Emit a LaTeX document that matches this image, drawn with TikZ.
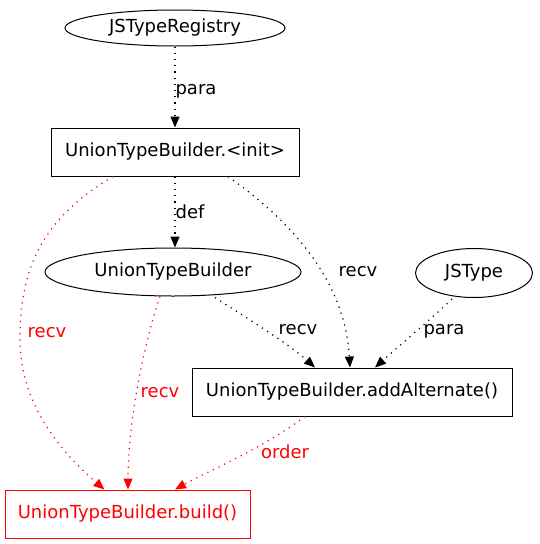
\documentclass[tikz,border=0pt]{standalone}
\usepackage{fontspec}
\setmainfont{DejaVu Sans}
\usetikzlibrary{shapes.geometric,arrows.meta}
\begin{document}
\begin{tikzpicture}[x=1pt,y=-1pt,
  every node/.style={font=\fontsize{18}{22}\selectfont},
  ell/.style={draw,ellipse,inner sep=0pt,line width=1pt},
  box/.style={draw,rectangle,inner sep=0pt,minimum height=48pt,line width=1pt},
  lbl/.style={inner sep=0pt},
  edge/.style={draw,line width=1.2pt,dash pattern=on 1.2pt off 5pt,-{Triangle[length=11pt,width=9pt]}},
  redge/.style={edge,red},
]
\useasboundingbox (0,0) rectangle (539,544);
\node[ell,minimum width=220pt,minimum height=36pt] (reg) at (175,28) {JSTypeRegistry};
\node[box,minimum width=248pt] (init) at (175,152) {UnionTypeBuilder.<init>};
\node[ell,minimum width=256pt,minimum height=48pt] (utb) at (173,272) {UnionTypeBuilder};
\node[ell,minimum width=117pt,minimum height=49pt] (jst) at (474,273) {JSType};
\node[box,minimum width=320pt] (add) at (352,392) {UnionTypeBuilder.addAlternate()};
\node[box,minimum width=245pt,draw=red,text=red] (build) at (127.5,514) {UnionTypeBuilder.build()};

\path[edge] (reg) -- (init);
\path[edge] (init.south) -- (init.south |- utb.north);
\path[redge] ([xshift=-62pt]init.south) .. controls (40,220) and (20,270) .. (20,340)
  .. controls (20,410) and (70,460) .. ([xshift=-23pt]build.north);
\path[redge] ([xshift=-13pt]utb.south) .. controls (145,340) and (128,420) .. ([xshift=0.5pt]build.north);
\path[edge] ([xshift=42pt,yshift=-1pt]utb.south) .. controls (250,320) and (290,345) .. ([xshift=-37pt]add.north);
\path[edge] ([xshift=53pt]init.south) .. controls (290,220) and (345,280) .. ([xshift=-2pt]add.north);
\path[edge] ([xshift=-22pt,yshift=-1pt]jst.south) .. controls (430,320) and (400,345) .. ([xshift=23pt]add.north);
\path[redge] ([xshift=-47pt]add.south) .. controls (260,450) and (210,470) .. ([xshift=47.5pt]build.north);

\node[lbl] (l1) at (196,91) {para};
\node[lbl] (l2) at (190,212) {def};
\node[lbl,text=red] (l3) at (47,333) {recv};
\node[lbl,text=red] (l4) at (160,393) {recv};
\node[lbl] (l5) at (298,330) {recv};
\node[lbl] (l6) at (358,272) {recv};
\node[lbl] (l7) at (444,331) {para};
\node[lbl,text=red] (l8) at (285,452) {order};
\end{tikzpicture}
\end{document}
